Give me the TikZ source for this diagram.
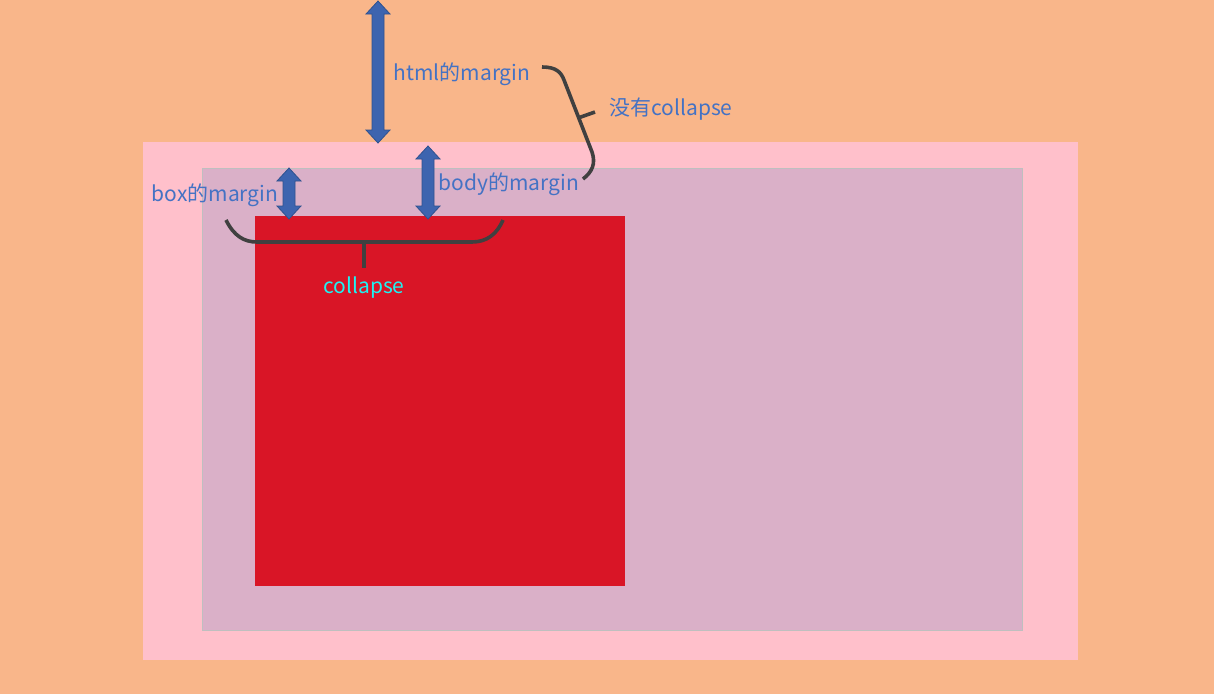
\documentclass[tikz,border=0pt]{standalone}
\usepackage{fontspec}
\newfontfamily\cjk{Noto Sans CJK SC}
\definecolor{pageorange}{HTML}{F9B68A}
\definecolor{htmlpink}{HTML}{FFC0CB}
\definecolor{bodymauve}{HTML}{DAB0C8}
\definecolor{boxred}{HTML}{D91526}
\definecolor{arrowblue}{HTML}{3D64AF}
\definecolor{arrowedge}{HTML}{2F528F}
\definecolor{labelblue}{HTML}{4472C4}
\definecolor{bracegray}{HTML}{404040}
\definecolor{collapsecyan}{HTML}{1EF2F2}

% vertical double arrow: x, top y, bottom y
\newcommand{\vdarrow}[3]{%
  \filldraw[fill=arrowblue, draw=arrowedge, line width=0.8pt]
    (#1,#2) -- ({#1+12},{#2+13}) -- ({#1+6},{#2+13}) -- ({#1+6},{#3-13})
    -- ({#1+12},{#3-13}) -- (#1,#3) -- ({#1-12},{#3-13}) -- ({#1-6},{#3-13})
    -- ({#1-6},{#2+13}) -- ({#1-12},{#2+13}) -- cycle;}

\begin{document}
\begin{tikzpicture}[x=1pt, y=-1pt,
  marginlabel/.style={inner sep=0pt, text=labelblue, font=\cjk\fontsize{21}{25}\selectfont},
  brace/.style={draw=bracegray, line width=3.6pt}]
\useasboundingbox (0,0) rectangle (1214,694);

% Draw the page, html, body and box
\fill[pageorange] (0,0) rectangle (1214,694);
\fill[htmlpink] (143,142) rectangle (1078,660);
\filldraw[fill=bodymauve, draw=gray!50, line width=0.8pt] (202,168) rectangle (1022,630);
\fill[boxred] (255,216) rectangle (625,586);

% Draw the margin arrows
\vdarrow{378}{1}{143}
\vdarrow{428}{146}{219}
\vdarrow{289}{168}{219}

% Draw the braces
\draw[brace] (542,67) .. controls (556,67) and (561,72) .. (564,80) -- (592,152)
  .. controls (596,164) and (592,172) .. (583,179);
\draw[brace] (578,118) -- (595,112);
\draw[brace] (226,220) .. controls (234,236) and (244,242) .. (257,242) -- (472,242)
  .. controls (487,242) and (497,234) .. (503,220);
\draw[brace] (364,242) -- (364,268);

% Insert the labels
\node[marginlabel] (htmlmargin) at (462,74) {html的margin};
\node[marginlabel] (nocollapse) at (671,109) {没有collapse};
\node[marginlabel] (bodymargin) at (509,184) {body的margin};
\node[marginlabel] (boxmargin) at (215,195) {box的margin};
\node[marginlabel, text=collapsecyan] (collapse) at (364,288) {collapse};
\end{tikzpicture}
\end{document}
